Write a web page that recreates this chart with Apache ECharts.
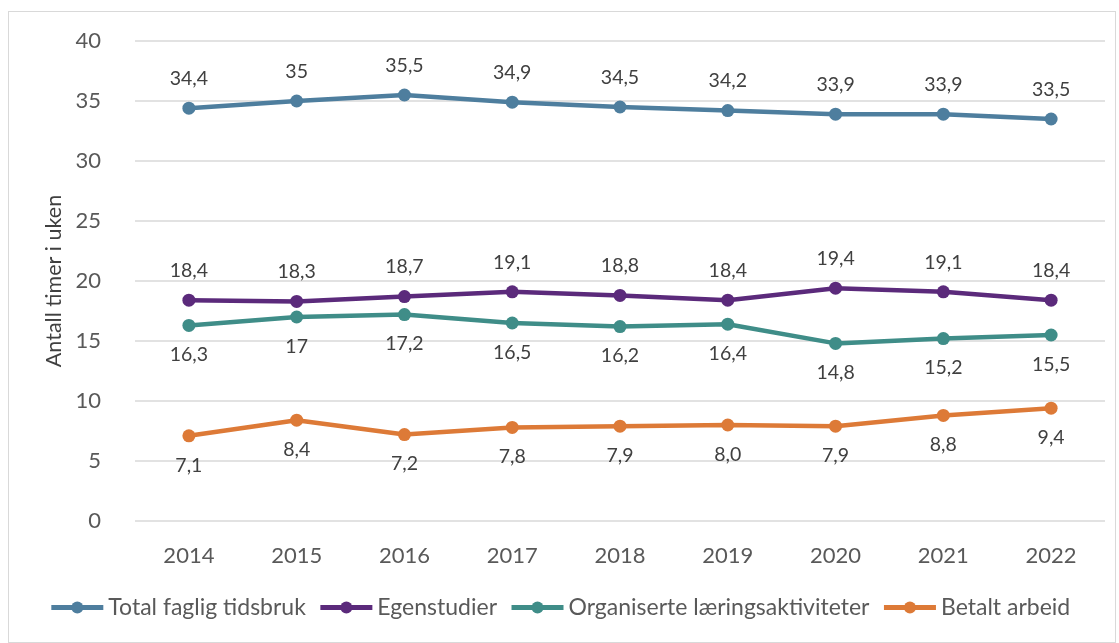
<!DOCTYPE html>
<html>
<head>
<meta charset="utf-8">
<script src="https://cdn.jsdelivr.net/npm/echarts@6/dist/echarts.min.js"></script>
<style>
  html, body { margin: 0; padding: 0; background: #fff; }
  #frame { position: absolute; left: 8px; top: 11px; width: 1108px; height: 632px; border: 1px solid #d9d9d9; box-sizing: border-box; }
  #chart { position: absolute; left: 0; top: 0; width: 1119px; height: 643px; }
</style>
</head>
<body>
<div id="frame"></div>
<div id="chart"></div>
<script>
const years = ["2014", "2015", "2016", "2017", "2018", "2019", "2020", "2021", "2022"];
const total = [34.4, 35, 35.5, 34.9, 34.5, 34.2, 33.9, 33.9, 33.5];
const egenstudier = [18.4, 18.3, 18.7, 19.1, 18.8, 18.4, 19.4, 19.1, 18.4];
const organiserte = [16.3, 17, 17.2, 16.5, 16.2, 16.4, 14.8, 15.2, 15.5];
const betalt = [7.1, 8.4, 7.2, 7.8, 7.9, 8.0, 7.9, 8.8, 9.4];

const font = "Lato, 'Open Sans', sans-serif";
const chart = echarts.init(document.getElementById("chart"));

function lineSeries(name, data, color, position, fixed) {
  return {
    name,
    type: "line",
    data,
    symbol: "circle",
    symbolSize: 13,
    lineStyle: { width: 4.5, color },
    itemStyle: { color },
    label: {
      show: true,
      position,
      distance: 13,
      fontFamily: font,
      fontSize: 19.5,
      color: "#404040",
      formatter: (p) => (fixed ? p.value.toFixed(1) : String(p.value)).replace(".", ","),
    },
  };
}

chart.setOption({
  animation: false,
  textStyle: { fontFamily: font },
  grid: { left: 135, right: 14, top: 41, bottom: 122 },
  legend: {
    bottom: 19,
    left: "center",
    itemWidth: 52,
    itemHeight: 15,
    itemGap: 12,
    lineStyle: { width: 5 },
    textStyle: { fontFamily: font, fontSize: 23, color: "#595959" },
    data: ["Total faglig tidsbruk", "Egenstudier", "Organiserte læringsaktiviteter", "Betalt arbeid"],
  },
  xAxis: {
    type: "category",
    data: years,
    axisLine: { show: false },
    axisTick: { show: false },
    axisLabel: { fontFamily: font, fontSize: 22, color: "#595959", margin: 24 },
  },
  yAxis: {
    type: "value",
    min: 0,
    max: 40,
    interval: 5,
    name: "Antall timer i uken",
    nameLocation: "middle",
    nameGap: 66,
    nameTextStyle: { fontFamily: font, fontSize: 21.5, color: "#404040" },
    axisLabel: { fontFamily: font, fontSize: 22, color: "#595959", margin: 34 },
    splitLine: { lineStyle: { color: "#d9d9d9", width: 1.5 } },
  },
  series: [
    lineSeries("Total faglig tidsbruk", total, "#4e7e9e", "top", false),
    lineSeries("Egenstudier", egenstudier, "#5b2a7b", "top", true),
    lineSeries("Organiserte læringsaktiviteter", organiserte, "#3f8d88", "bottom", false),
    lineSeries("Betalt arbeid", betalt, "#dd7a37", "bottom", true),
  ],
});
</script>
</body>
</html>
